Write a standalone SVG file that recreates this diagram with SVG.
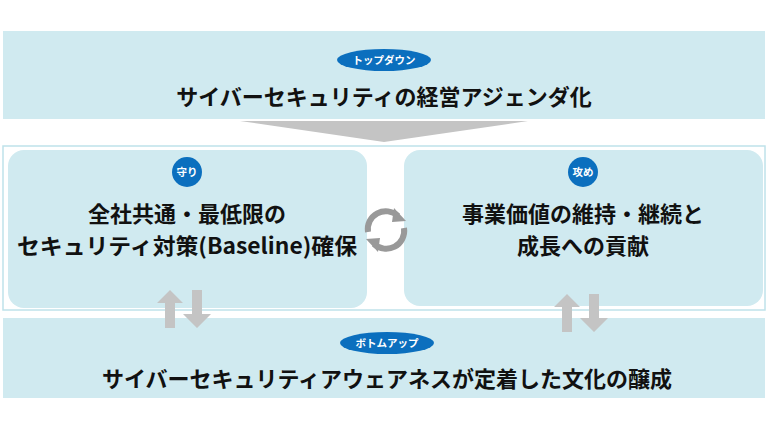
<svg xmlns="http://www.w3.org/2000/svg" width="768" height="432" viewBox="0 0 768 432">
<style>
.band{fill:#d0eaf0}
.t{font-family:"Noto Sans CJK JP","Liberation Sans",sans-serif;font-weight:bold;fill:#111;text-anchor:middle;font-size:22px}
.b{font-family:"Noto Sans CJK JP",sans-serif;font-weight:bold;fill:#fff;text-anchor:middle;font-size:10.5px}
.badge{fill:#0b6fbe}
.g{fill:#c4c4c4}
</style>
<rect width="768" height="432" fill="#fff"/>
<g id="top">
<rect class="band" x="3" y="31" width="762" height="88"/>
<ellipse class="badge" cx="384" cy="60" rx="47" ry="11"/>
<text class="b" x="384" y="64">トップダウン</text>
<text class="t" x="384" y="105">サイバーセキュリティの経営アジェンダ化</text>
</g>
<g id="frame"><rect x="3" y="146" width="762" height="164" fill="none" stroke="#bfe2ea" stroke-width="1.5"/></g>
<g id="left">
<rect class="band" x="8" y="150" width="359" height="158" rx="16"/>
<circle class="badge" cx="187" cy="172" r="15"/>
<text class="b" x="187" y="176">守り</text>
<text class="t" x="187" y="222">全社共通・最低限の</text>
<text class="t" x="187" y="254" textLength="340" lengthAdjust="spacingAndGlyphs">セキュリティ対策(Baseline)確保</text>
</g>
<g id="right">
<rect class="band" x="404" y="150" width="359" height="156" rx="16"/>
<circle class="badge" cx="583" cy="172" r="15"/>
<text class="b" x="583" y="176">攻め</text>
<text class="t" x="583" y="222">事業価値の維持・継続と</text>
<text class="t" x="583" y="254">成長への貢献</text>
</g>
<g id="bottom">
<rect class="band" x="3" y="318" width="762" height="80"/>
<ellipse class="badge" cx="387" cy="343" rx="47" ry="11"/>
<text class="b" x="387" y="347">ボトムアップ</text>
<text class="t" x="387" y="387">サイバーセキュリティアウェアネスが定着した文化の醸成</text>
</g>
<g id="connectors">
<polygon class="g" points="240,121 528,121 384,142"/>
<g fill="none" stroke="#999" stroke-width="6">
<path d="M368,232 A18,18 0 0 1 398,216"/>
<path d="M404,228 A18,18 0 0 1 374,244"/>
</g>
<polygon fill="#999" points="394,208 406,221 392,222"/>
<polygon fill="#999" points="378,252 366,239 380,238"/>
<polygon class="g" points="157,303 170,290 183,303 175,303 175,328 165,328 165,303"/>
<polygon class="g" points="192,290 202,290 202,314 211,314 197,328 183,314 192,314"/>
<polygon class="g" points="554,307 567,294 580,307 572,307 572,332 562,332 562,307"/>
<polygon class="g" points="589,294 599,294 599,318 608,318 594,332 580,318 589,318"/>
</g>
</svg>
